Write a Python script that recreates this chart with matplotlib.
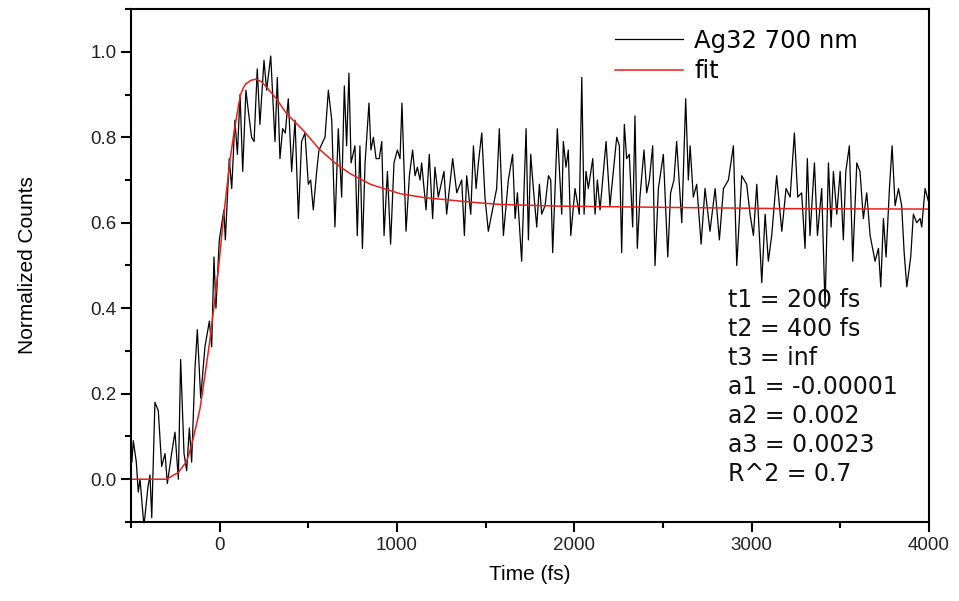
import matplotlib
matplotlib.use("Agg")
import matplotlib.pyplot as plt
from matplotlib.ticker import MultipleLocator

t_data = [-495, -487, -470, -459, -449, -427, -405, -393, -383, -365, -346, -327, -308, -295,
          -271, -252, -233, -220, -201, -186, -171, -158, -139, -126, -107, -83, -58, -45,
          -32, -21, -2, 24, 32, 54, 68, 86, 100, 115, 130, 148, 162, 180, 194, 212, 227,
          250, 265, 288, 312, 325, 340, 355, 370, 387, 406, 425, 444, 462, 481, 500, 513,
          528, 547, 560, 594, 613, 632, 650, 669, 688, 703, 716, 729, 741, 763, 776, 791,
          805, 820, 842, 853, 867, 882, 900, 914, 927, 946, 964, 983, 1002, 1017, 1028,
          1051, 1070, 1088, 1102, 1115, 1130, 1139, 1164, 1182, 1201, 1214, 1233, 1265,
          1280, 1314, 1337, 1365, 1380, 1393, 1416, 1431, 1446, 1459, 1478, 1496, 1515,
          1543, 1562, 1577, 1600, 1628, 1652, 1666, 1679, 1703, 1728, 1741, 1754, 1769,
          1788, 1803, 1816, 1835, 1854, 1867, 1878, 1904, 1929, 1938, 1953, 1966, 1980,
          2004, 2028, 2042, 2055, 2066, 2079, 2104, 2117, 2130, 2145, 2179, 2201, 2239,
          2254, 2267, 2282, 2295, 2310, 2329, 2342, 2355, 2370, 2393, 2408, 2423, 2442,
          2455, 2474, 2502, 2527, 2543, 2562, 2577, 2606, 2628, 2643, 2653, 2671, 2690,
          2715, 2737, 2765, 2794, 2818, 2841, 2869, 2897, 2916, 2944, 2972, 2991, 3010,
          3029, 3057, 3076, 3094, 3113, 3141, 3170, 3194, 3217, 3241, 3260, 3282, 3301,
          3314, 3329, 3354, 3371, 3395, 3414, 3433, 3448, 3461, 3480, 3499, 3517, 3531,
          3551, 3570, 3593, 3611, 3630, 3649, 3668, 3696, 3715, 3728, 3743, 3758, 3777,
          3792, 3809, 3828, 3846, 3860, 3875, 3897, 3912, 3931, 3950, 3959, 3978, 3997]
counts = [0.04, 0.09, 0.04, -0.03, 0.00, -0.11, -0.02, 0.01, -0.09, 0.18, 0.16, 0.03, 0.06, -0.01,
          0.06, 0.11, 0.00, 0.28, 0.06, 0.02, 0.12, 0.04, 0.26, 0.35, 0.19, 0.31, 0.37, 0.31,
          0.52, 0.40, 0.56, 0.63, 0.56, 0.75, 0.68, 0.84, 0.76, 0.90, 0.72, 0.91, 0.86, 0.80,
          0.79, 0.96, 0.83, 0.98, 0.91, 0.99, 0.79, 0.94, 0.75, 0.82, 0.81, 0.89, 0.72, 0.84,
          0.61, 0.79, 0.81, 0.69, 0.70, 0.63, 0.72, 0.77, 0.80, 0.91, 0.84, 0.59, 0.82, 0.66,
          0.92, 0.78, 0.95, 0.74, 0.78, 0.57, 0.78, 0.54, 0.74, 0.88, 0.77, 0.80, 0.75, 0.75,
          0.79, 0.57, 0.72, 0.55, 0.74, 0.77, 0.75, 0.88, 0.58, 0.71, 0.77, 0.71, 0.73, 0.70,
          0.74, 0.63, 0.76, 0.61, 0.73, 0.66, 0.72, 0.62, 0.75, 0.67, 0.70, 0.57, 0.71, 0.62,
          0.78, 0.68, 0.74, 0.81, 0.66, 0.58, 0.64, 0.68, 0.82, 0.57, 0.70, 0.76, 0.61, 0.67,
          0.51, 0.82, 0.56, 0.76, 0.68, 0.59, 0.69, 0.62, 0.64, 0.71, 0.70, 0.53, 0.82, 0.62,
          0.79, 0.73, 0.77, 0.57, 0.68, 0.62, 0.94, 0.62, 0.72, 0.68, 0.75, 0.62, 0.70, 0.63,
          0.79, 0.64, 0.80, 0.78, 0.53, 0.83, 0.75, 0.76, 0.59, 0.85, 0.54, 0.66, 0.77, 0.67,
          0.70, 0.78, 0.50, 0.68, 0.76, 0.52, 0.67, 0.70, 0.79, 0.60, 0.89, 0.70, 0.78, 0.66,
          0.69, 0.55, 0.68, 0.58, 0.68, 0.56, 0.68, 0.70, 0.78, 0.50, 0.71, 0.69, 0.62, 0.57,
          0.69, 0.46, 0.62, 0.51, 0.57, 0.71, 0.58, 0.68, 0.66, 0.81, 0.66, 0.67, 0.54, 0.75,
          0.57, 0.74, 0.57, 0.68, 0.40, 0.74, 0.59, 0.72, 0.62, 0.72, 0.56, 0.72, 0.78, 0.51,
          0.74, 0.72, 0.61, 0.67, 0.57, 0.51, 0.54, 0.45, 0.61, 0.52, 0.68, 0.78, 0.64, 0.68,
          0.64, 0.53, 0.45, 0.52, 0.62, 0.60, 0.61, 0.59, 0.68, 0.65]

# fit curve
t_fit = [-500, -300, -233, -186, -158, -130, -111, -92, -60, -32, -5, 20, 40, 58, 75, 92, 105,
         119, 135, 148, 175, 205, 235, 265, 320, 378, 472, 560, 650, 735, 850, 1017, 1150,
         1299, 1450, 1581, 1900, 2500, 3200, 4000]
fit = [0.0, 0.0, 0.016, 0.042, 0.08, 0.13, 0.165, 0.218, 0.31, 0.404, 0.50, 0.606, 0.68, 0.746,
       0.795, 0.839, 0.872, 0.901, 0.917, 0.925, 0.933, 0.936, 0.930, 0.917, 0.89, 0.855, 0.816,
       0.773, 0.74, 0.715, 0.69, 0.668, 0.659, 0.653, 0.647, 0.643, 0.639, 0.636, 0.633, 0.632]

fit_params = ["t1 = 200 fs", "t2 = 400 fs", "t3 = inf", "a1 = -0.00001",
              "a2 = 0.002", "a3 = 0.0023", "R^2 = 0.7"]

fig = plt.figure(figsize=(9.59, 6.01), dpi=100)
ax = fig.add_axes([0.1366, 0.1315, 0.8321, 0.8535])

ax.plot(t_data, counts, color="black", lw=0.9, label="Ag32 700 nm")
ax.plot(t_fit, fit, color="#e8201c", lw=1.1, label="fit")

ax.set_xlim(-500, 4000)
ax.set_ylim(-0.1, 1.1)
ax.xaxis.set_major_locator(MultipleLocator(1000))
ax.xaxis.set_minor_locator(MultipleLocator(500))
ax.yaxis.set_minor_locator(MultipleLocator(0.1))
ax.set_yticks([0.0, 0.2, 0.4, 0.6, 0.8, 1.0])
ax.set_yticklabels(["0.0", "0.2", "0.4", "0.6", "0.8", "1.0"])

for s in ax.spines.values():
    s.set_linewidth(1.5)
ax.tick_params(which="major", direction="out", length=7, width=1.5, top=False, right=False)
ax.tick_params(which="minor", direction="out", length=4.5, width=1.5, top=False, right=False)
for lab in ax.get_xticklabels() + ax.get_yticklabels():
    lab.set_family("Liberation Sans")
    lab.set_fontsize(13.5)
    lab.set_color("#222222")

ax.set_xlabel("Time (fs)", family="Liberation Sans", fontsize=15, labelpad=8)
ax.set_ylabel("Normalized Counts", family="Liberation Sans", fontsize=15, labelpad=38)

ax.legend(loc="upper left", bbox_to_anchor=(0.607, 0.962), frameon=False,
          prop={"family": "DejaVu Sans", "size": 17.5}, handlelength=2.8,
          handletextpad=0.45, borderpad=0, borderaxespad=0, labelspacing=0.28)

ax.text(0.748, 0.456, "\n".join(fit_params), transform=ax.transAxes, va="top", ha="left",
        family="DejaVu Sans", fontsize=17, linespacing=1.26, color="#111111")

fig.savefig("out.png", dpi=100)
